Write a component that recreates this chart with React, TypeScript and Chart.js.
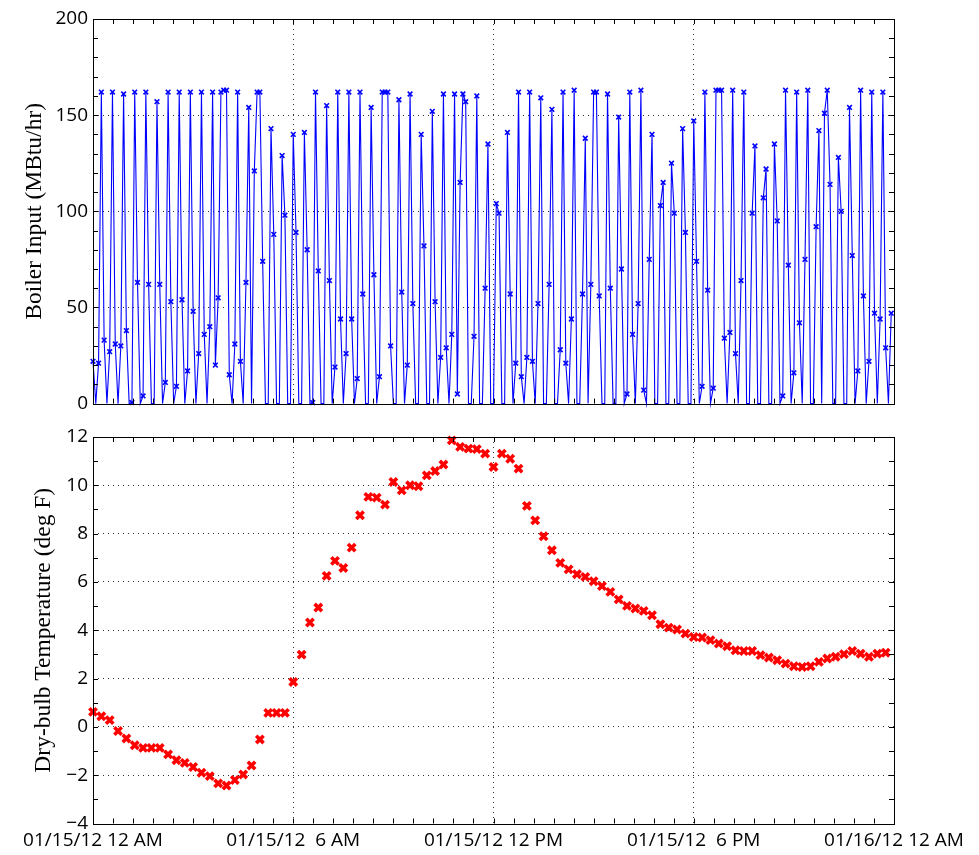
import React, { useEffect, useRef } from 'react';
import { Chart, registerables } from 'chart.js';

Chart.register(...registerables);

// ---- data ----
const boilerStepMinutes = 5;
const tempStepMinutes = 15;

const boilerInput = [
  22, 0, 21, 162, 33, 0, 27, 162, 31, 0,
  30, 161, 38, 0, 0.5, 162, 63, 0, 4, 162,
  62, 0, 0, 157, 62, 0, 11, 162, 53, 0,
  9, 162, 54, 0, 17, 162, 48, 0, 26, 162,
  36, 0, 40, 162, 20, 55, 162, 163, 163, 15,
  0, 31, 162, 22, 0, 63, 154, 0, 121, 162,
  162, 74, 0, 0, 143, 88, 0, 0, 129, 98,
  0, 0, 140, 89, 0, 0, 141, 80, 0, 0.5,
  162, 69, 0, 0, 155, 64, 0, 19, 162, 44,
  0, 26, 162, 44, 0, 13, 162, 57, 0, 0,
  154, 67, 0, 14, 162, 162, 162, 30, 0, 0,
  158, 58, 0, 20, 161, 52, 0, 0, 140, 82,
  0, 0, 152, 53, 0, 24, 161, 29, 0, 36,
  161, 5, 115, 161, 157, 0, 0, 35, 160, 0,
  0, 60, 135, 0, 0, 104, 99, 0, 0, 141,
  57, 0, 21, 162, 14, 0, 24, 162, 22, 0,
  52, 159, 0, 0, 62, 153, 0, 0, 28, 162,
  21, 0, 44, 163, 0, 0, 57, 138, 0, 62,
  162, 162, 56, 0, 0, 161, 60, 0, 0, 149,
  70, 0, 5, 162, 36, 0, 52, 163, 7, 0,
  75, 140, 0, 0, 103, 115, 0, 0, 125, 99,
  0, 0, 143, 89, 0, 0, 147, 74, 0, 9,
  162, 59, 0, 8, 163, 163, 163, 34, 0, 37,
  163, 26, 0, 64, 162, 0, 0, 99, 134, 0,
  0, 107, 122, 0, 0, 135, 95, 0, 4, 163,
  72, 0, 16, 162, 42, 0, 75, 163, 0, 0,
  92, 142, 0, 151, 163, 114, 0, 0, 128, 100,
  0, 0, 154, 77, 0, 17, 163, 56, 0, 22,
  162, 47, 0, 44, 162, 29, 0, 47,
];

const dryBulbTemp = [
  0.62, 0.44, 0.28, -0.17, -0.48, -0.76, -0.87, -0.87, -0.87, -1.14,
  -1.38, -1.49, -1.66, -1.9, -2.04, -2.34, -2.43, -2.2, -1.97, -1.6,
  -0.52, 0.58, 0.58, 0.58, 1.86, 2.99, 4.32, 4.94, 6.25, 6.87,
  6.58, 7.42, 8.76, 9.52, 9.49, 9.2, 10.14, 9.79, 10, 9.96,
  10.41, 10.59, 10.86, 11.86, 11.59, 11.52, 11.5, 11.31, 10.76, 11.31,
  11.1, 10.69, 9.15, 8.55, 7.89, 7.31, 6.79, 6.52, 6.32, 6.21,
  6.03, 5.83, 5.59, 5.28, 5.01, 4.9, 4.8, 4.62, 4.25, 4.11,
  4.03, 3.86, 3.72, 3.7, 3.59, 3.45, 3.34, 3.17, 3.14, 3.14,
  2.97, 2.87, 2.76, 2.62, 2.51, 2.48, 2.51, 2.69, 2.83, 2.9,
  3.01, 3.14, 3.03, 2.9, 3.03, 3.07,
];

const timeTicks = [0, 360, 720, 1080, 1440];
const timeTickLabels = [
  '01/15/12 12 AM',
  '01/15/12  6 AM',
  '01/15/12 12 PM',
  '01/15/12  6 PM',
  '01/16/12 12 AM',
];
const boilerTicks = [0, 50, 100, 150, 200];
const tempTicks = [-4, -2, 0, 2, 4, 6, 8, 10, 12];
const timeMinorStep = 36;
const boilerMinorStep = 10;
const tempMinorStep = 1;

const boilerTitle = 'Boiler Input (MBtu/hr)';
const tempTitle = 'Dry-bulb Temperature (deg F)';

// ---- styling ----
const TICK_FONT = { family: 'Open Sans', size: 19 };
const TITLE_FONT = { family: 'Liberation Serif', size: 23.5 };
const GRID_COLOR = 'rgba(0,0,0,0.8)';

const framePlugin = {
  id: 'frame',
  afterDatasetsDraw(chart: any, _args: any, opts: any) {
    const { ctx, chartArea } = chart;
    const { left, right, top, bottom } = chartArea;
    const xs = chart.scales.x;
    const ys = chart.scales.y;
    const L = 5;
    ctx.save();
    ctx.strokeStyle = '#000';
    ctx.lineWidth = 1;
    ctx.beginPath();
    for (let v = xs.min; v <= xs.max + 1e-9; v += opts.xStep) {
      const p = Math.round(xs.getPixelForValue(v)) + 0.5;
      ctx.moveTo(p, bottom);
      ctx.lineTo(p, bottom - L);
      ctx.moveTo(p, top);
      ctx.lineTo(p, top + L);
    }
    for (let v = ys.min; v <= ys.max + 1e-9; v += opts.yStep) {
      const p = Math.round(ys.getPixelForValue(v)) + 0.5;
      ctx.moveTo(left, p);
      ctx.lineTo(left + L, p);
      ctx.moveTo(right, p);
      ctx.lineTo(right - L, p);
    }
    ctx.stroke();
    ctx.strokeRect(
      Math.round(left) + 0.5,
      Math.round(top) + 0.5,
      Math.round(right) - Math.round(left),
      Math.round(bottom) - Math.round(top)
    );
    ctx.restore();
  },
};

function edgeHidden(c: any) {
  const s = c.scale;
  if (!c.tick) return GRID_COLOR;
  const v = c.tick.value;
  return v <= s.min + 1e-9 || v >= s.max - 1e-9 ? 'rgba(0,0,0,0)' : GRID_COLOR;
}

function xScale(showLabels: boolean, height: number) {
  return {
    type: 'linear',
    min: 0,
    max: 1440,
    afterBuildTicks: (s: any) => {
      s.ticks = timeTicks.map((v) => ({ value: v }));
    },
    afterFit: (s: any) => {
      s.height = height;
    },
    ticks: {
      display: showLabels,
      autoSkip: false,
      maxRotation: 0,
      minRotation: 0,
      padding: 6,
      font: TICK_FONT,
      color: '#000',
      callback: (_v: any, i: number) => timeTickLabels[i],
    },
    grid: { color: edgeHidden, drawTicks: false, lineWidth: 1 },
    border: { display: false, dash: [1, 4] },
  };
}

function yScale(min: number, max: number, ticks: number[], title: string, titlePad: number) {
  return {
    type: 'linear',
    min,
    max,
    afterBuildTicks: (s: any) => {
      s.ticks = ticks.map((v) => ({ value: v }));
    },
    afterFit: (s: any) => {
      s.width = 93;
    },
    ticks: {
      padding: 5,
      font: TICK_FONT,
      color: '#000',
      callback: (v: any) => (v < 0 ? '\u2212' + Math.abs(v) : String(v)),
    },
    grid: { color: edgeHidden, drawTicks: false, lineWidth: 1 },
    border: { display: false, dash: [1, 4] },
    title: {
      display: true,
      text: title,
      font: TITLE_FONT,
      color: '#000',
      padding: { top: titlePad, bottom: 0 },
    },
  };
}

export default function App() {
  const topRef = useRef<HTMLCanvasElement>(null);
  const botRef = useRef<HTMLCanvasElement>(null);

  useEffect(() => {
    const boilerPoints = boilerInput.map((v, i) => ({ x: i * boilerStepMinutes, y: v }));
    const tempPoints = dryBulbTemp.map((v, i) => ({ x: i * tempStepMinutes, y: v }));

    const top = new Chart(topRef.current as HTMLCanvasElement, {
      type: 'line',
      data: {
        datasets: [
          {
            data: boilerPoints,
            borderColor: '#0000ff',
            borderWidth: 1.1,
            tension: 0,
            pointStyle: 'crossRot',
            pointRadius: (c: any) => (c.raw && c.raw.y > 0 ? 3.3 : 0),
            pointBorderColor: '#0000ff',
            pointBackgroundColor: '#0000ff',
            pointBorderWidth: 1.6,
            clip: false,
          } as any,
        ],
      },
      options: {
        animation: false,
        responsive: false,
        devicePixelRatio: 1,
        events: [],
        layout: { padding: { left: 0, right: 85, top: 19, bottom: 13 } },
        plugins: {
          legend: { display: false },
          tooltip: { enabled: false },
          frame: { xStep: timeMinorStep, yStep: boilerMinorStep },
        } as any,
        scales: {
          x: xScale(false, 0),
          y: yScale(0, 200, boilerTicks, boilerTitle, 21),
        } as any,
      },
      plugins: [framePlugin],
    });

    const bot = new Chart(botRef.current as HTMLCanvasElement, {
      type: 'scatter',
      data: {
        datasets: [
          {
            data: tempPoints,
            showLine: false,
            pointStyle: 'crossRot',
            pointRadius: 5.2,
            pointBorderColor: '#ff0000',
            pointBackgroundColor: '#ff0000',
            pointBorderWidth: 3.6,
            clip: false,
          } as any,
        ],
      },
      options: {
        animation: false,
        responsive: false,
        devicePixelRatio: 1,
        events: [],
        layout: { padding: { left: 0, right: 85, top: 17, bottom: 0 } },
        plugins: {
          legend: { display: false },
          tooltip: { enabled: false },
          frame: { xStep: timeMinorStep, yStep: tempMinorStep },
        } as any,
        scales: {
          x: xScale(true, 31.5),
          y: yScale(-4, 12, tempTicks, tempTitle, 30),
        } as any,
      },
      plugins: [framePlugin],
    });

    return () => {
      top.destroy();
      bot.destroy();
    };
  }, []);

  return (
    <div style={{ position: 'absolute', left: 0, top: 0, width: 979, height: 855, background: '#fff' }}>
      <canvas ref={topRef} width={979} height={420} style={{ position: 'absolute', left: 0, top: 0, display: 'block' }} />
      <canvas ref={botRef} width={979} height={435} style={{ position: 'absolute', left: 0, top: 420, display: 'block' }} />
    </div>
  );
}
